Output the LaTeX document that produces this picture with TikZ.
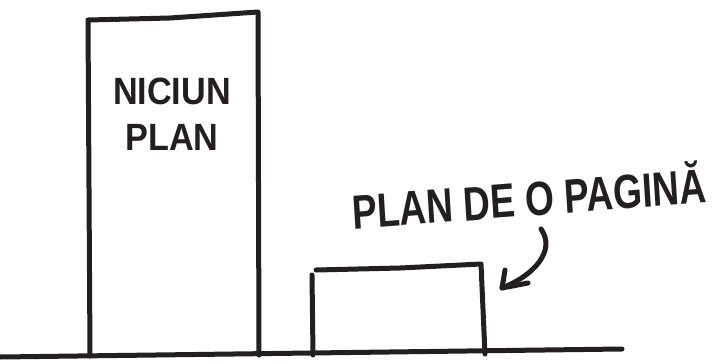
\documentclass[tikz,border=0pt]{standalone}
\usepackage{fontspec}
\setmainfont{Liberation Sans}
\usetikzlibrary{arrows.meta}
\definecolor{ink}{HTML}{231F20}
\tikzset{
  stroke/.style={draw=ink, line width=5pt, line cap=round, line join=round},
  label/.style={text=ink, font=\bfseries\fontsize{38}{44}\selectfont, inner sep=0pt, align=center, xscale=0.9}
}
\begin{document}
\begin{tikzpicture}[x=1pt,y=-1pt]
\useasboundingbox (0,0) rectangle (712,362);
% ground
\coordinate (g1) at (0,357);
\coordinate (g2) at (622,349);
\draw[stroke] (g1) -- (g2);
% tall building
\draw[stroke] (90,356) -- (88,20) -- (170,18) -- (258,12) -- (259,355);
\node[label] (t1) at (172,91) {NICIUN};
\node[label] (t2) at (172,137) {PLAN};
% small building
\draw[stroke] (313,355) -- (312,275);
\draw[stroke] (316,270) -- (400,268) -- (481,264) -- (485,354);
% label
\node[label, font=\bfseries\fontsize{48}{52}\selectfont, rotate=4, xscale=0.86] (t3) at (529,195) {PLAN DE O PAGINĂ};
% arrow
\coordinate (a0) at (541,229);
\coordinate (a1) at (502,288);
\draw[stroke] (a0) .. controls (556,250) and (535,275) .. (a1);
\draw[stroke] (505,270) -- (a1) -- (528,283);
\end{tikzpicture}
\end{document}
